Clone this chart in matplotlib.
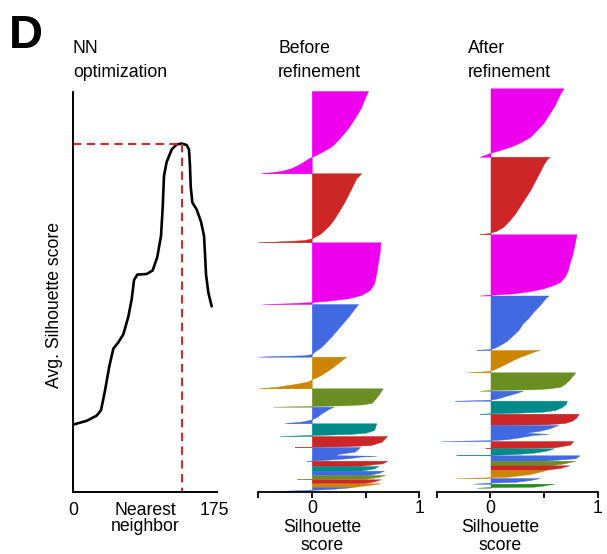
import matplotlib
matplotlib.use("Agg")
import matplotlib.pyplot as plt
import numpy as np

plt.rcParams['font.family'] = ['Liberation Sans', 'DejaVu Sans']

W, H, DPI = 607, 554, 100
FS = 12.7

# ---------------- Panel 1: NN optimization curve ----------------
nn_values = [1.2, 17, 29.3, 34.7, 39.6, 45, 50, 56.1, 62.3, 68.5, 72.7, 75.6, 79.7,
             91.3, 98.7, 104.4, 109, 111.1, 112.7, 116, 122.2, 128.4, 134.6, 140.8,
             143.7, 144.9, 145.8, 147.8, 153.2, 158.6, 162.3, 163.5, 164.8, 167.6, 171.8]
avg_silhouette = [0.169, 0.178, 0.191, 0.2045, 0.253, 0.3145, 0.3585, 0.374, 0.394, 0.438,
                  0.482, 0.530, 0.5435, 0.545, 0.554, 0.5875, 0.640, 0.711, 0.79, 0.825,
                  0.856, 0.869, 0.871, 0.8675, 0.856, 0.816, 0.7635, 0.724, 0.706, 0.6755,
                  0.640, 0.596, 0.5435, 0.499, 0.464]
nn_ticks = [0, 175]

# ---------------- Cluster colours ----------------
MAG, RED, BLUE, ORG = '#EE00EE', '#CD2626', '#4169E1', '#CD8500'
OLV, TEAL, GRN = '#6B8E23', '#008B8B', '#228B22'

# ---------------- Panel 2: before refinement ----------------
before_colors = [MAG, RED, MAG, BLUE, ORG, OLV, BLUE, TEAL, RED, BLUE,
                 RED, TEAL, BLUE, OLV, RED, ORG, BLUE]
before_sizes = [82.3, 69, 61.7, 52.7, 31.6, 18.4, 16.6, 12.7, 11, 13.7,
                5.3, 4.7, 4.3, 4.3, 4, 4, 3.7]
before_fracs = [
    [0, .089, .21, .33, .453, .574, .676, .744, .785, .797, .825, .878, .939, .972, .988, 1],
    [0, .072, .17, .267, .412, .532, .652, .75, .822, .884, .923, .942, .967, .981, .991, 1],
    [0, .178, .502, .664, .773, .854, .907, .946, .968, .989, 1],
    [0, .082, .241, .431, .62, .81, .905, .949, .973, .987, 1],
    [0, .158, .367, .579, .715, .791, .864, .949, 1],
    [0, .364, .636, .783, .87, .924, .951, .962, 1],
    [0, .199, .398, .602, .759, .88, .964, 1],
    [0, .528, .74, .843, .921, 1],
    [0, .518, .818, .936, .973, 1],
    [0, .34, .5, .6, .64, .7, .82, .95, 1],
    [0, .49, .94, 1],
    [0, .5, 1],
    [0, .5, 1],
    [0, .45, .85, .92, 1],
    [0, .5, 1],
    [0, .5, 1],
    [0, .4, .7, 1],
]
before_scores = [
    [0.523, 0.492, 0.455, 0.399, 0.336, 0.259, 0.181, 0.087, 0.025, 0, -0.037, -0.1, -0.193, -0.287, -0.38, -0.47],
    [0.461, 0.414, 0.383, 0.352, 0.305, 0.259, 0.212, 0.165, 0.118, 0.072, 0.025, 0, -0.069, -0.224, -0.349, -0.505],
    [0.64, 0.63, 0.60, 0.58, 0.54, 0.46, 0.34, 0.15, 0, -0.22, -0.46],
    [0.43, 0.40, 0.34, 0.26, 0.18, 0.09, 0.025, 0, -0.07, -0.35, -0.5],
    [0.32, 0.26, 0.18, 0.087, 0, -0.04, -0.16, -0.32, -0.49],
    [0.66, 0.62, 0.58, 0.56, 0.48, 0.3, 0.1, 0, -0.36],
    [0.2, 0.14, 0.09, 0.05, 0, -0.08, -0.2, -0.25],
    [0.6, 0.58, 0.5, 0.35, 0, -0.3],
    [0.7, 0.65, 0.55, 0.3, 0, -0.16],
    [0.45, 0.40, 0.25, 0.22, 0.6, 0.45, 0.34, 0.1, -0.05],
    [0.7, 0.66, 0.45, 0.4],
    [0.62, 0.58, 0.45],
    [0.67, 0.62, 0.52],
    [0.68, 0.62, 0.5, 0, -0.14],
    [0.64, 0.58, 0.48],
    [0.64, 0.5, 0.36],
    [0.36, 0.2, 0, -0.36],
]

# ---------------- Panel 3: after refinement ----------------
after_colors = [MAG, RED, MAG, BLUE, ORG, OLV, BLUE, TEAL, RED, BLUE,
                RED, TEAL, BLUE, OLV, RED, ORG, BLUE, GRN]
after_sizes = [68.4, 77.6, 61.2, 54.5, 22.3, 18.4, 10, 13, 11.3, 16,
               7.3, 7, 5.4, 4.6, 4.7, 8, 5.7, 4]
after_fracs = [
    [0, .073, .171, .268, .39, .512, .61, .708, .781, .839, .887, .917, .942, .971, 1],
    [0, .043, .107, .193, .322, .429, .536, .644, .73, .816, .902, .954, .979, .996, 1],
    [0, .175, .338, .447, .585, .694, .775, .83, .884, .928, .966, .989, 1],
    [0, .051, .174, .297, .418, .51, .633, .725, .835, .908, .958, .982, .994, 1],
    [0, .076, .193, .314, .448, .596, .749, .852, .928, .973, 1],
    [0, .147, .418, .636, .783, .87, .924, .962, 1],
    [0, .26, .5, .76, .9, .96, 1],
    [0, .254, .508, .715, .846, .923, .969, 1],
    [0, .319, .62, .823, .938, 1],
    [0, .208, .356, .48, .56, .62, .77, .89, .95, 1],
    [0, .5, .87, .95, 1],
    [0, .34, .63, .81, .95, 1],
    [0, .55, 1],
    [0, .6, 1],
    [0, .55, 1],
    [0, .21, .5, .71, .84, .91, 1],
    [0, .35, .65, .82, 1],
    [0, .45, .75, .85, 1],
]
after_scores = [
    [0.68, 0.65, 0.62, 0.59, 0.54, 0.49, 0.43, 0.37, 0.29, 0.21, 0.12, 0.056, 0, -0.044, -0.1],
    [0.55, 0.52, 0.49, 0.46, 0.41, 0.37, 0.32, 0.27, 0.23, 0.18, 0.12, 0.056, 0, -0.07, -0.1],
    [0.8, 0.78, 0.76, 0.74, 0.72, 0.69, 0.65, 0.585, 0.49, 0.37, 0.21, 0, -0.1],
    [0.54, 0.51, 0.46, 0.4, 0.35, 0.3, 0.26, 0.21, 0.15, 0.087, 0.04, 0, -0.1, -0.13],
    [0.46, 0.4, 0.34, 0.27, 0.21, 0.15, 0.087, 0.04, 0, -0.1, -0.21],
    [0.79, 0.77, 0.73, 0.69, 0.65, 0.55, 0.4, 0, -0.1],
    [0.3, 0.23, 0.15, 0.07, 0, -0.16, -0.33],
    [0.71, 0.7, 0.66, 0.6, 0.49, 0.24, 0, -0.1],
    [0.82, 0.8, 0.76, 0.69, 0.52, 0],
    [0.63, 0.55, 0.46, 0.33, 0.54, 0.40, 0.27, 0.15, 0, -0.46],
    [0.77, 0.74, 0.59, 0.3, -0.05],
    [0.59, 0.52, 0.4, 0.24, 0, -0.32],
    [0.83, 0.79, 0.49],
    [0.79, 0.68, 0.55],
    [0.73, 0.65, 0.49],
    [0.52, 0.46, 0.37, 0.24, 0.15, 0, -0.32],
    [0.46, 0.37, 0.24, 0, -0.16],
    [0.59, 0.49, 0.4, 0, -0.13],
]
sil_ticks = [-0.5, 0, 0.5, 1]
sil_ticklabels = ['', '0', '', '1']


def fx(px):
    return px / W


def fy(py):
    return 1 - py / H


fig = plt.figure(figsize=(W / DPI, H / DPI), dpi=DPI)

# ---- Panel 1 ----
ax1 = fig.add_axes([fx(73), fy(492), 143.7 / W, 400 / H])
ax1.plot(nn_values, avg_silhouette, color='black', lw=1.9, solid_capstyle='round',
         solid_joinstyle='round')
imax = int(np.argmax(avg_silhouette))
peak_x, peak_y = nn_values[imax], avg_silhouette[imax]
ax1.plot([0, peak_x], [peak_y, peak_y], color='#D42A2A', lw=1.5, dashes=(4, 2.6))
ax1.plot([peak_x, peak_x], [peak_y, 0], color='#D42A2A', lw=1.5, dashes=(4, 2.6))
ax1.set_xlim(0, 178)
ax1.set_ylim(0, 1)
for s in ['top', 'right']:
    ax1.spines[s].set_visible(False)
for s in ['left', 'bottom']:
    ax1.spines[s].set_linewidth(1.4)
ax1.set_yticks([])
ax1.set_xticks(nn_ticks)
ax1.set_xticklabels([str(t) for t in nn_ticks])
ax1.tick_params(axis='x', length=0, pad=7, labelsize=FS)
ax1.set_facecolor('none')


def draw_sil(ax, top, sizes, colors, fracs, scores):
    y0 = top
    for size, col, f, s in zip(sizes, colors, fracs, scores):
        y = y0 - np.asarray(f) * size
        ax.fill_betweenx(y, 0, np.asarray(s), facecolor=col, edgecolor=col, lw=0.3)
        y0 -= size


for left, top, sizes, colors, fracs, scores in [
        (258, 401, before_sizes, before_colors, before_fracs, before_scores),
        (436.7, 403.7, after_sizes, after_colors, after_fracs, after_scores)]:
    ax = fig.add_axes([fx(left), fy(492), 161.3 / W, 404 / H])
    draw_sil(ax, top, sizes, colors, fracs, scores)
    ax.set_xlim(-0.5, 1.0)
    ax.set_ylim(0, 404)
    for s in ['top', 'right', 'left']:
        ax.spines[s].set_visible(False)
    ax.spines['bottom'].set_linewidth(1.3)
    ax.set_yticks([])
    ax.set_xticks(sil_ticks)
    ax.set_xticklabels(sil_ticklabels)
    ax.tick_params(axis='x', length=4, width=1.3, pad=2, labelsize=FS)
    ax.set_facecolor('none')

# ---- Texts ----
fig.text(fx(9), fy(48), 'D', fontsize=34, fontweight='bold', va='baseline', ha='left')
fig.text(fx(73), fy(53), 'NN', fontsize=FS, va='baseline', ha='left')
fig.text(fx(73), fy(77), 'optimization', fontsize=FS, va='baseline', ha='left')
fig.text(fx(278), fy(53), 'Before', fontsize=FS, va='baseline', ha='left')
fig.text(fx(278), fy(77), 'refinement', fontsize=FS, va='baseline', ha='left')
fig.text(fx(468), fy(53), 'After', fontsize=FS, va='baseline', ha='left')
fig.text(fx(468), fy(77), 'refinement', fontsize=FS, va='baseline', ha='left')
fig.text(fx(55), fy(305), 'Avg. Silhouette score', fontsize=FS, rotation=90,
         va='center', ha='center')
fig.text(fx(145), fy(515), 'Nearest', fontsize=FS, va='baseline', ha='center')
fig.text(fx(145), fy(531), 'neighbor', fontsize=FS, va='baseline', ha='center')
for cx in (322, 500):
    fig.text(fx(cx), fy(532.5), 'Silhouette', fontsize=FS, va='baseline', ha='center')
    fig.text(fx(cx), fy(549.5), 'score', fontsize=FS, va='baseline', ha='center')

fig.savefig('out.png', dpi=DPI)
